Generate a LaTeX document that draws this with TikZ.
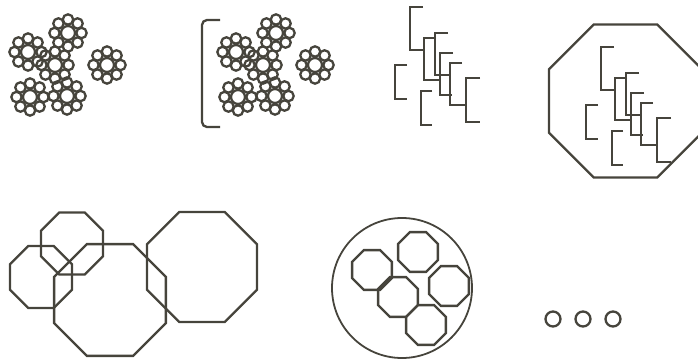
\documentclass[tikz,border=0pt]{standalone}
\usetikzlibrary{shapes.geometric}
\definecolor{ink}{HTML}{46443C}

\begin{document}
\begin{tikzpicture}[
  x=1pt, y=-1pt, color=ink, line width=2.3pt,
  oct/.style={draw, regular polygon, regular polygon sides=8, inner sep=0pt, minimum size=#1},
  ring/.style={draw, circle, inner sep=0pt, minimum size=#1},
  flower/.pic={
    \draw (0,0) circle[radius=7];
    \foreach \a in {0,45,...,315} \draw (\a:13.5) circle[radius=5.2];
  },
  bunch/.pic={
    \pic at (68,33) {flower};
    \pic at (28,52) {flower};
    \pic at (55,65) {flower};
    \pic at (30,97) {flower};
    \pic at (67,96) {flower};
    \pic at (107,65) {flower};
  },
  clips/.pic={
    \draw (423,7) -- (410,7) -- (410,50) -- (424,50);
    \draw (436,38) -- (424,38) -- (424,80) -- (440,80);
    \draw (448,33) -- (435,33) -- (435,75) -- (450,75);
    \draw (453,53) -- (440,53) -- (440,95) -- (452,95);
    \draw (462,63) -- (450,63) -- (450,105) -- (466,105);
    \draw (480,78) -- (466,78) -- (466,122) -- (480,122);
    \draw (407,65) -- (395,65) -- (395,99) -- (407,99);
    \draw (432,91) -- (421,91) -- (421,125) -- (432,125);
  },
]
\clip (0,0) rectangle (698,361);

% ---------------- top row ----------------
\pic at (0,0) {bunch};
\pic at (208,0) {bunch};
\draw[rounded corners=5pt] (220,20) -- (202,20) -- (202,127) -- (220,127);
\pic at (0,0) {clips};
\pic at (191,40) {clips};
\node[oct=165.6pt] (cage) at (625.5,101) {};

% ---------------- bottom row ----------------
\node[oct=67pt] (octA) at (72,243.5) {};
\node[oct=67pt] (octB) at (41,277) {};
\node[oct=121pt] (octC) at (110,300) {};
\node[oct=119pt] (octD) at (202,267) {};

\node[ring=140pt, line width=1.8pt] (bag) at (402,288) {};
\node[oct=43pt] (inA) at (418,252) {};
\node[oct=43pt] (inB) at (372,270) {};
\node[oct=43pt] (inC) at (449,286) {};
\node[oct=43pt] (inD) at (398,297) {};
\node[oct=43pt] (inE) at (426,325) {};

\node[ring=15pt] (dot1) at (553,319) {};
\node[ring=15pt] (dot2) at (583,319) {};
\node[ring=15pt] (dot3) at (613,319) {};
\end{tikzpicture}
\end{document}
